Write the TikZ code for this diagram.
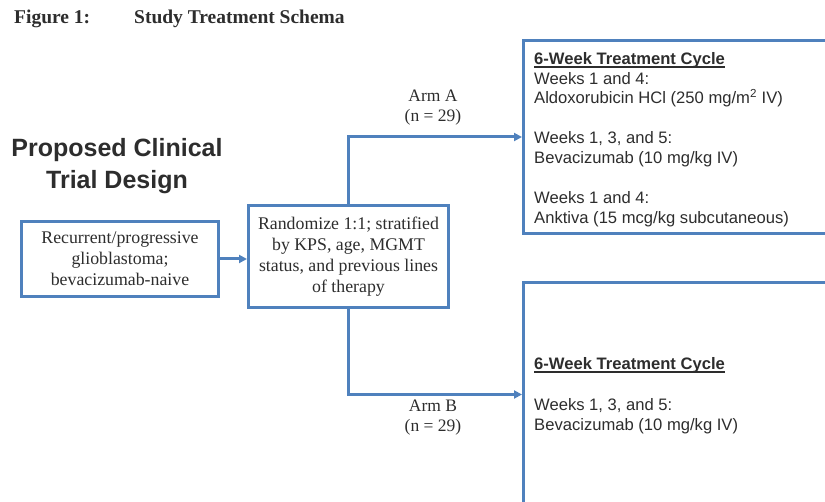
\documentclass[tikz,border=0pt]{standalone}
\usepackage{fontspec}
\setmainfont{Liberation Serif}
\newfontfamily\arialf{Liberation Sans}
\usetikzlibrary{arrows.meta}
\definecolor{lineblue}{RGB}{79,129,189}
\definecolor{txt}{RGB}{45,45,45}
\newcommand\myul[1]{\setbox0\hbox{#1}\rlap{\rule[-2.6pt]{\wd0}{1.3pt}}\box0}
\begin{document}
\begin{tikzpicture}[x=1pt,y=-1pt,
 box/.style={draw=lineblue, line width=3pt, fill=white, inner sep=0pt, anchor=north west},
 conn/.style={draw=lineblue, line width=3pt, -{Triangle[length=8pt,width=8pt]}},
 serif/.style={font=\fontsize{17.8}{21}\selectfont, text=txt, align=center, inner sep=0pt},
 sans/.style={font=\arialf\fontsize{16.6}{20}\selectfont, text=txt, anchor=base west, inner sep=0pt},
 heading/.style={font=\bfseries\fontsize{19.5}{22}\selectfont, text=txt, anchor=base west, inner sep=0pt},
 bigtitle/.style={font=\arialf\bfseries\fontsize{25}{32}\selectfont, text=txt, align=center, inner sep=0pt},
]
\useasboundingbox (0,0) rectangle (825,502);
\fill[white] (0,0) rectangle (825,502);

% headings
\node[heading] (fig) at (14,24) {Figure 1:};
\node[heading] (figt) at (134,24) {Study Treatment Schema};
\node[bigtitle] (design) at (117,166) {Proposed Clinical\\Trial Design};

% boxes
\node[box, minimum width=197pt, minimum height=75pt] (pat) at (20,220) {};
\node[serif] at (pat.center) {Recurrent/progressive\\glioblastoma;\\bevacizumab-naive};

\node[box, minimum width=200pt, minimum height=102pt] (rand) at (247,204) {};
\node[serif] at (rand.center) {Randomize 1:1; stratified\\by KPS, age, MGMT\\status, and previous lines\\of therapy};

\node[box, minimum width=320pt, minimum height=193pt] (armA) at (522,39) {};
\node[box, minimum width=320pt, minimum height=224pt] (armB) at (522,281) {};

% arm A text
\node[sans] (ta1) at (534,65) {\myul{\textbf{6-Week Treatment Cycle}}};
\node[sans] (ta2) at (534,85) {Weeks 1 and 4:};
\node[sans] (ta3) at (534,104) {Aldoxorubicin HCl (250 mg/m\textsuperscript{2} IV)};
\node[sans] (ta4) at (534,144) {Weeks 1, 3, and 5:};
\node[sans] (ta5) at (534,164) {Bevacizumab (10 mg/kg IV)};
\node[sans] (ta6) at (534,204) {Weeks 1 and 4:};
\node[sans] (ta7) at (534,224) {Anktiva (15 mcg/kg subcutaneous)};

% arm B text
\node[sans] (tb1) at (534,370) {\myul{\textbf{6-Week Treatment Cycle}}};
\node[sans] (tb2) at (534,411) {Weeks 1, 3, and 5:};
\node[sans] (tb3) at (534,431) {Bevacizumab (10 mg/kg IV)};

% connectors
\draw[conn] (pat.east) -- (pat.east -| rand.west);
\draw[conn] (rand.north) |- (armA.west);
\draw[conn] (rand.south) |- (armB.west);

% arm labels
\node[serif, font=\fontsize{17.5}{20}\selectfont] (la) at (433,108) {Arm A\\(n = 29)};
\node[serif, font=\fontsize{17.5}{20}\selectfont] (lb) at (433,418) {Arm B\\(n = 29)};
\end{tikzpicture}
\end{document}
